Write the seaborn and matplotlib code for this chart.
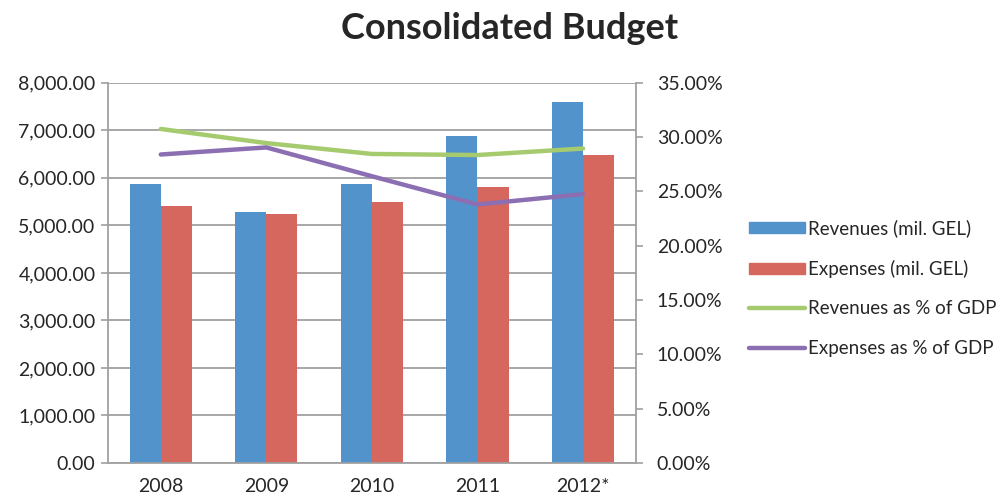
import numpy as np
import pandas as pd
import seaborn as sns
import matplotlib.pyplot as plt
from matplotlib.ticker import FuncFormatter, MultipleLocator
from matplotlib.patches import Patch
from matplotlib.lines import Line2D

years = ['2008', '2009', '2010', '2011', '2012*']
revenues = [5870, 5280, 5880, 6890, 7590]
expenses = [5410, 5230, 5500, 5800, 6480]
rev_gdp = [30.75, 29.45, 28.45, 28.35, 28.95]
exp_gdp = [28.4, 29.05, 26.4, 23.8, 24.75]

blue = '#5393CB'
red = '#D6675F'
green = '#A6CB6E'
purple = '#8C6FB3'
grey = '#A0A0A0'

sns.set_style('white')
plt.rcParams['font.family'] = ['Lato', 'DejaVu Sans']

df = pd.DataFrame({'year': years,
                   'Revenues (mil. GEL)': revenues,
                   'Expenses (mil. GEL)': expenses})
df_long = df.melt('year', var_name='series', value_name='value')

fig = plt.figure(figsize=(9.96, 4.97), dpi=100)
ax = fig.add_axes([0.1084, 0.0684, 0.530, 0.765])

sns.barplot(data=df_long, x='year', y='value', hue='series',
            palette=[blue, red], width=0.59, saturation=1, linewidth=0,
            ax=ax, legend=False)
ax.set_xlim(-0.5, 4.5)
ax.set_ylim(0, 8000)
ax.yaxis.set_major_locator(MultipleLocator(1000))
ax.yaxis.set_major_formatter(FuncFormatter(lambda v, p: f'{v:,.2f}'))
ax.grid(axis='y', color=grey, linewidth=1.3)
ax.set_axisbelow(True)
ax.set_xlabel('')
ax.set_ylabel('')

ax2 = ax.twinx()
xs = np.arange(len(years))
sns.lineplot(x=xs, y=rev_gdp, color=green, linewidth=3.2, ax=ax2)
sns.lineplot(x=xs, y=exp_gdp, color=purple, linewidth=3.2, ax=ax2)
ax2.set_ylim(0, 35)
ax2.yaxis.set_major_locator(MultipleLocator(5))
ax2.yaxis.set_major_formatter(FuncFormatter(lambda v, p: f'{v:.2f}%'))
ax.set_xlim(-0.5, 4.5)

for a in (ax, ax2):
    for s in a.spines.values():
        s.set_visible(False)
ax.spines['left'].set_visible(True)
ax.spines['bottom'].set_visible(True)
ax2.spines['right'].set_visible(True)
for s in (ax.spines['left'], ax.spines['bottom'], ax2.spines['right']):
    s.set_color(grey)
    s.set_linewidth(1.3)

ax.set_xticks(xs)
ax.set_xticklabels(years)
ax.set_xticks(np.arange(-0.5, 5, 1), minor=True)
ax.tick_params(axis='x', which='major', length=0, pad=11, labelsize=14)
ax.tick_params(axis='x', which='minor', length=5, color=grey, width=1.2)
ax.tick_params(axis='y', length=5, color=grey, width=1.2, labelsize=14, pad=4, left=True)
ax2.tick_params(axis='y', length=5, color=grey, width=1.2, labelsize=14, pad=10)

fig.suptitle('Consolidated Budget', x=0.512, y=0.975, fontsize=26, fontweight='bold')

handles = [Patch(color=blue), Patch(color=red),
           Line2D([], [], color=green, linewidth=3.2),
           Line2D([], [], color=purple, linewidth=3.2)]
labels = ['Revenues (mil. GEL)', 'Expenses (mil. GEL)',
          'Revenues as % of GDP', 'Expenses as % of GDP']
fig.legend(handles, labels, loc='center left', bbox_to_anchor=(0.735, 0.42),
           frameon=False, fontsize=13.5, labelspacing=1.2, handlelength=3.0,
           handleheight=0.5, handletextpad=0.15)

fig.savefig('out.png', dpi=100)
